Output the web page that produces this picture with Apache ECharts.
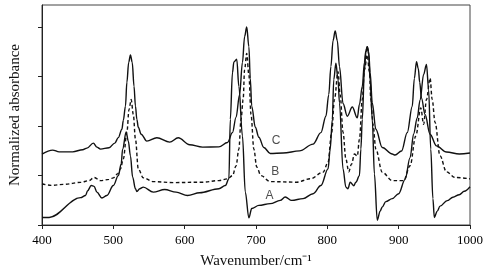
<!DOCTYPE html>
<html>
<head>
<meta charset="utf-8">
<script src="https://cdn.jsdelivr.net/npm/echarts@6/dist/echarts.min.js"></script>
<style>
  html, body { margin: 0; padding: 0; background: #fff; }
  #spectra { width: 492px; height: 274px; }
</style>
</head>
<body>
<div id="spectra"></div>
<script>
  // wavenumbers (cm-1) and normalized absorbance
  var waveA = [400,410,454,461,464,469,473,477,484,491,500,507,511,513,518,521,524,527,531,533,537,542,556,572,588,604,621,648,657,662,664,667,669,673,676,681,685,690,694,704,720,734,741,750,766,780,791,801,804,807,809,812,815,817,822,826,829,832,837,840,845,847,849,852,854,856,858,860,863,866,870,874,877,882,891,900,909,916,921,926,930,935,939,942,945,948,950,954,958,968,976,985,992,1000];
  var absA = [0.038,0.038,0.138,0.149,0.173,0.199,0.195,0.166,0.136,0.149,0.199,0.249,0.308,0.383,0.469,0.423,0.349,0.243,0.183,0.169,0.183,0.191,0.166,0.179,0.166,0.149,0.163,0.183,0.199,0.233,0.533,0.768,0.823,0.836,0.699,0.449,0.166,0.036,0.083,0.099,0.108,0.124,0.141,0.124,0.133,0.158,0.199,0.283,0.383,0.533,0.733,0.816,0.733,0.616,0.283,0.191,0.183,0.216,0.198,0.216,0.249,0.383,0.533,0.783,0.87,0.899,0.86,0.73,0.533,0.258,0.024,0.07,0.091,0.118,0.133,0.158,0.23,0.34,0.46,0.54,0.63,0.76,0.81,0.683,0.383,0.133,0.038,0.07,0.095,0.123,0.14,0.153,0.17,0.193];

  var waveB = [400,413,431,454,466,473,482,494,500,506,510,514,519,522,525,528,531,535,542,556,584,625,648,660,667,672,676,679,682,684,687,690,693,697,701,707,720,757,776,794,801,806,810,815,818,822,826,830,834,838,842,845,849,852,856,859,861,864,868,877,891,907,916,924,931,935,939,944,947,951,958,967,979,1000];
  var absB = [0.208,0.2,0.205,0.215,0.224,0.24,0.224,0.23,0.238,0.258,0.283,0.333,0.468,0.583,0.633,0.558,0.433,0.283,0.238,0.219,0.214,0.216,0.224,0.233,0.249,0.298,0.383,0.533,0.633,0.783,0.866,0.758,0.558,0.383,0.293,0.249,0.219,0.216,0.233,0.266,0.316,0.466,0.633,0.774,0.658,0.468,0.333,0.269,0.308,0.358,0.348,0.433,0.633,0.783,0.858,0.773,0.633,0.508,0.383,0.266,0.224,0.224,0.299,0.449,0.591,0.508,0.633,0.741,0.633,0.518,0.349,0.268,0.24,0.233];

  var waveC = [400,415,424,443,457,463,472,477,482,494,502,507,512,514,517,519,521.5,524,526.5,529,531,533,535,539,547,561,579,591,607,625,648,660,667,672,677,681,684,687,690,692,694,699,704,711,720,738,761,780,791,798,802,805,808,811,814,817,822,828,835,842,845,849,852,854,856,858,860,863,868,877,891,895,904,912,919,922,925,927.5,929.5,932,937,944,953,967,985,1000];
  var absC = [0.358,0.378,0.369,0.369,0.38,0.388,0.413,0.393,0.383,0.39,0.413,0.441,0.483,0.528,0.6,0.72,0.82,0.858,0.82,0.7,0.6,0.533,0.493,0.458,0.423,0.44,0.418,0.44,0.405,0.393,0.394,0.416,0.466,0.543,0.658,0.82,0.95,0.999,0.9,0.74,0.6,0.493,0.443,0.391,0.361,0.363,0.374,0.408,0.466,0.549,0.658,0.8,0.93,0.979,0.93,0.8,0.613,0.549,0.595,0.541,0.608,0.699,0.82,0.88,0.899,0.875,0.77,0.616,0.483,0.391,0.358,0.353,0.373,0.466,0.598,0.74,0.824,0.79,0.72,0.64,0.558,0.458,0.399,0.368,0.358,0.363];

  var curveNames = ['A', 'B', 'C'];
  var yTicks = [0, 0.25, 0.5, 0.75, 1];
  // where the A/B/C tags sit, in data coordinates
  var tagAt = [[719, 0.146], [727, 0.269], [728, 0.424]];

  function pairs(xs, ys) {
    return xs.map(function (x, i) { return [x, ys[i]]; });
  }

  function curve(name, data, dash) {
    return {
      name: name,
      type: 'line',
      data: data,
      showSymbol: false,
      smooth: 0.35,
      smoothMonotone: 'x',
      silent: true,
      lineStyle: { color: '#111', width: 1.4, type: dash ? [3.5, 2.5] : 'solid' }
    };
  }

  var chart = echarts.init(document.getElementById('spectra'));
  var serif = '"Liberation Serif", "Times New Roman", serif';

  chart.setOption({
    animation: false,
    backgroundColor: '#fff',
    grid: {
      left: 37.5, right: 22, top: 5, bottom: 47,
      show: true, borderColor: '#444', borderWidth: 1
    },
    xAxis: {
      type: 'value',
      min: 400, max: 1000, interval: 100,
      name: 'Wavenumber/cm\u207B\u00B9',
      nameLocation: 'middle',
      nameGap: 29,
      nameTextStyle: { fontFamily: serif, fontSize: 15, color: '#111' },
      axisLine: { lineStyle: { color: '#222', width: 1 } },
      axisTick: { length: 4, lineStyle: { color: '#222' } },
      axisLabel: {
        fontFamily: serif, fontSize: 13, color: '#000', margin: 9,
        formatter: function (v) { return String(v); }
      },
      splitLine: { show: false }
    },
    yAxis: {
      type: 'value',
      min: 0, max: 1.11,
      name: 'Normalized absorbance',
      nameLocation: 'middle',
      nameGap: 19,
      nameTextStyle: { fontFamily: serif, fontSize: 15, color: '#111' },
      axisLine: { show: true, lineStyle: { color: '#222', width: 1 } },
      axisTick: { show: true, length: 4, customValues: yTicks, lineStyle: { color: '#222' } },
      axisLabel: { show: false },
      splitLine: { show: false }
    },
    series: [
      curve('A', pairs(waveA, absA), false),
      curve('B', pairs(waveB, absB), true),
      curve('C', pairs(waveC, absC), false),
      {
        type: 'scatter',
        silent: true,
        symbolSize: 0,
        data: curveNames.map(function (n, i) { return { name: n, value: tagAt[i] }; }),
        label: {
          show: true,
          position: 'inside',
          formatter: '{b}',
          fontFamily: '"Liberation Sans", Arial, sans-serif',
          fontSize: 12,
          color: '#222'
        }
      }
    ]
  });
</script>
</body>
</html>
